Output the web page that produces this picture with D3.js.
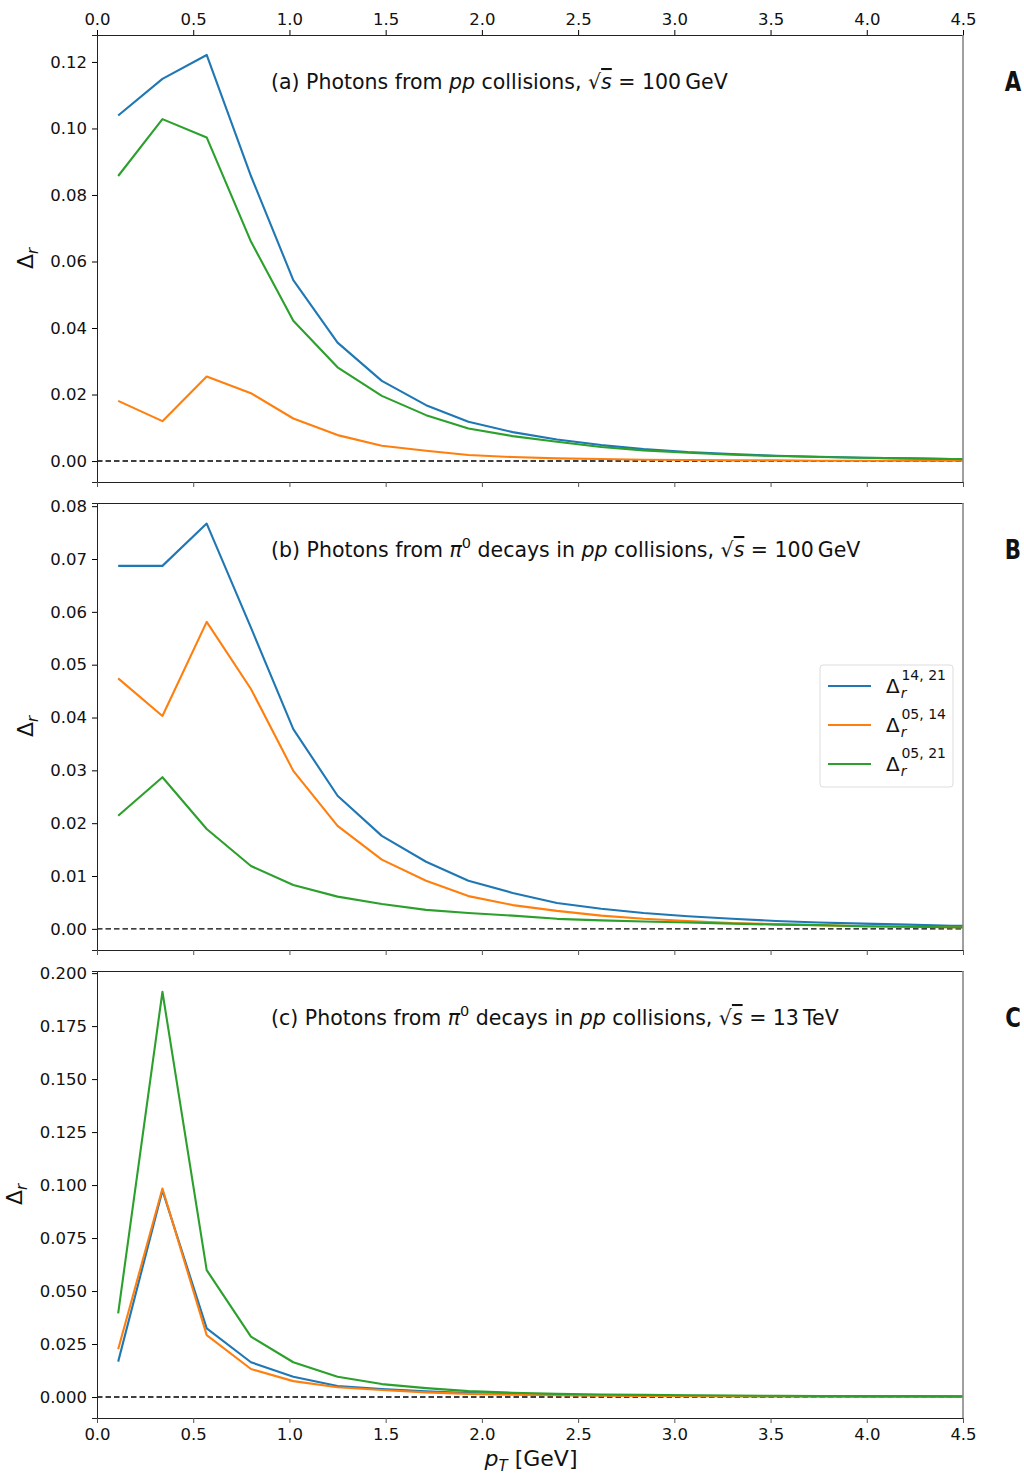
<!DOCTYPE html>
<html>
<head>
<meta charset="utf-8">
<script src="https://cdn.jsdelivr.net/npm/d3@7"></script>
<style>
  body { margin: 0; background: #fff; }
  svg { display: block; }
  text { font-family: "DejaVu Sans", sans-serif; fill: #111; }
</style>
</head>
<body>
<svg width="1024" height="1474"></svg>
<script>
const width = 1024;
const height = 1474;
const svg = d3.select("svg");

// pT bin centres [GeV]
const pT = [0.11, 0.34, 0.57, 0.80, 1.02, 1.25, 1.48, 1.71, 1.93, 2.16, 2.39,
            2.62, 2.84, 3.07, 3.30, 3.53, 3.75, 3.98, 4.21, 4.44, 4.66];

// (a) photons from pp, 100 GeV
const aD1421 = [0.1039, 0.1149, 0.1221, 0.0857, 0.0544, 0.0356, 0.0241, 0.0168, 0.0118, 0.0087, 0.0065,
                0.0048, 0.0036, 0.0027, 0.0021, 0.0016, 0.0013, 0.0010, 0.0008, 0.0006, 0.0005];
const aD0514 = [0.0181, 0.0120, 0.0254, 0.0204, 0.0128, 0.0078, 0.0046, 0.0031, 0.0018, 0.0012, 0.0008,
                0.0006, 0.0004, 0.0003, 0.0002, 0.0002, 0.0001, 0.0001, 0.0001, 0.0001, 0.0001];
const aD0521 = [0.0857, 0.1028, 0.0973, 0.0660, 0.0422, 0.0282, 0.0196, 0.0138, 0.0098, 0.0075, 0.0058,
                0.0042, 0.0032, 0.0025, 0.0019, 0.0015, 0.0012, 0.0010, 0.0008, 0.0006, 0.0005];

// (b) photons from pi0 decays, pp 100 GeV
const bD1421 = [0.0687, 0.0687, 0.0767, 0.0570, 0.0378, 0.0252, 0.0176, 0.0127, 0.0091, 0.0068, 0.0049,
                0.0038, 0.0030, 0.0024, 0.0019, 0.0015, 0.0012, 0.0010, 0.0008, 0.0006, 0.0005];
const bD0514 = [0.0474, 0.0403, 0.0581, 0.0454, 0.0299, 0.0195, 0.0131, 0.0091, 0.0062, 0.0045, 0.0034,
                0.0025, 0.0019, 0.0015, 0.0011, 0.0009, 0.0007, 0.0005, 0.0004, 0.0003, 0.0003];
const bD0521 = [0.0214, 0.0287, 0.0189, 0.0119, 0.0083, 0.0061, 0.0047, 0.0036, 0.0030, 0.0025, 0.0019,
                0.0016, 0.0014, 0.0012, 0.0010, 0.0008, 0.0007, 0.0005, 0.0004, 0.0003, 0.0002];

// (c) photons from pi0 decays, pp 13 TeV
const cD1421 = [0.0167, 0.0975, 0.0324, 0.0164, 0.0096, 0.0052, 0.0038, 0.0027, 0.0019, 0.0014, 0.0010,
                0.0008, 0.0007, 0.0006, 0.0005, 0.0004, 0.0004, 0.0003, 0.0003, 0.0003, 0.0002];
const cD0514 = [0.0225, 0.0984, 0.0292, 0.0132, 0.0075, 0.0046, 0.0033, 0.0022, 0.0015, 0.0011, 0.0008,
                0.0006, 0.0005, 0.0004, 0.0003, 0.0003, 0.0002, 0.0002, 0.0002, 0.0001, 0.0001];
const cD0521 = [0.0395, 0.1912, 0.0599, 0.0285, 0.0164, 0.0096, 0.0061, 0.0042, 0.0028, 0.0020, 0.0015,
                0.0012, 0.0010, 0.0008, 0.0007, 0.0006, 0.0005, 0.0004, 0.0004, 0.0003, 0.0003];

const xTicks = [0, 0.5, 1.0, 1.5, 2.0, 2.5, 3.0, 3.5, 4.0, 4.5];
const colors = ["#1f77b4", "#ff7f0e", "#2ca02c"];
const legendSup = ["14, 21", "05, 14", "05, 21"];

const panels = [
  { top: 35, bottom: 482, ymin: -0.0063, ymax: 0.1281, ticks: d3.range(0, 0.1201, 0.02), fmt: ".2f",
    series: [aD1421, aD0514, aD0521], label: "(a)", pi: false, energy: "100\u2009GeV", letter: "A", ylx: 33 },
  { top: 503, bottom: 950, ymin: -0.0040, ymax: 0.0806, ticks: d3.range(0, 0.0801, 0.01), fmt: ".2f",
    series: [bD1421, bD0514, bD0521], label: "(b)", pi: true, energy: "100\u2009GeV", letter: "B", ylx: 33 },
  { top: 971, bottom: 1418, ymin: -0.0099, ymax: 0.2010, ticks: d3.range(0, 0.2001, 0.025), fmt: ".3f",
    series: [cD1421, cD0514, cD0521], label: "(c)", pi: true, energy: "13\u2009TeV", letter: "C", ylx: 22 }
];

const x = d3.scaleLinear().domain([0, 4.5]).range([97, 963]);
const defs = svg.append("defs");

panels.forEach((p, i) => {
  const y = d3.scaleLinear().domain([p.ymin, p.ymax]).range([p.bottom, p.top]);
  const g = svg.append("g");

  // zero line
  g.append("line")
    .attr("x1", x(0)).attr("x2", x(4.5))
    .attr("y1", y(0)).attr("y2", y(0))
    .attr("stroke", "#000").attr("stroke-width", 1.4)
    .attr("stroke-dasharray", "5.5,3");

  const line = d3.line().x((d, k) => x(pT[k])).y(d => y(d));
  const clipId = "clip" + i;
  defs.append("clipPath").attr("id", clipId)
    .append("rect").attr("x", 97).attr("y", p.top).attr("width", 866).attr("height", p.bottom - p.top);

  p.series.forEach((s, k) => {
    g.append("path")
      .datum(s)
      .attr("clip-path", `url(#${clipId})`)
      .attr("fill", "none")
      .attr("stroke", colors[k])
      .attr("stroke-width", 2.1)
      .attr("stroke-linejoin", "round")
      .attr("d", line);
  });

  // y axis
  const yAxis = g.append("g")
    .attr("transform", `translate(${x(0)},0)`)
    .call(d3.axisLeft(y).tickValues(p.ticks).tickFormat(d3.format(p.fmt)).tickSize(5).tickPadding(5));
  yAxis.select(".domain").attr("stroke", "#222");
  yAxis.selectAll("text").style("font-size", "16.5px").attr("fill", "#111");

  // bottom x ticks
  const xb = g.append("g")
    .attr("transform", `translate(0,${p.bottom})`)
    .call(d3.axisBottom(x).tickValues(xTicks).tickSize(5).tickPadding(5)
      .tickFormat(i === 2 ? d3.format(".1f") : ""));
  xb.select(".domain").attr("stroke", "#222");
  xb.selectAll("line").attr("stroke", "#555");
  xb.selectAll("text").style("font-size", "16.5px").attr("fill", "#111");

  // top axis (labels only on first panel)
  const xt = g.append("g")
    .attr("transform", `translate(0,${p.top})`)
    .call(d3.axisTop(x).tickValues(xTicks).tickSize(i === 0 ? 5 : 0).tickPadding(5)
      .tickFormat(i === 0 ? d3.format(".1f") : ""));
  xt.select(".domain").attr("stroke", "#222");
  xt.selectAll("text").style("font-size", "16.5px").attr("fill", "#111");

  // right spine
  g.append("line")
    .attr("x1", x(4.5)).attr("x2", x(4.5))
    .attr("y1", p.top).attr("y2", p.bottom)
    .attr("stroke", "#888").attr("stroke-width", 1.6);

  // y label
  const yl = g.append("text")
    .attr("transform", `translate(${p.ylx},${(p.top + p.bottom) / 2}) rotate(-90)`)
    .attr("text-anchor", "middle")
    .style("font-size", "22px");
  yl.append("tspan").text("\u0394");
  yl.append("tspan").attr("font-style", "italic").attr("dy", 5).style("font-size", "15px").text("r");

  // panel title
  const ty = p.top + 54;
  const t = g.append("text").attr("x", 271).attr("y", ty).style("font-size", "20.5px");
  t.append("tspan").text(p.label + " Photons from ");
  if (p.pi) {
    t.append("tspan").attr("font-style", "italic").text("\u03c0");
    t.append("tspan").attr("dy", -9).style("font-size", "14.5px").text("0");
    t.append("tspan").attr("dy", 9).text(" decays in ");
  }
  t.append("tspan").attr("font-style", "italic").text("pp");
  t.append("tspan").text(" collisions, \u221a");
  t.append("tspan").attr("font-style", "italic").attr("text-decoration", "overline").text("s");
  t.append("tspan").text(" = " + p.energy);

  // panel letter
  svg.append("text")
    .attr("transform", `translate(1013,${ty + 2}) scale(0.82,1)`)
    .attr("text-anchor", "middle")
    .style("font-size", "26px").style("font-weight", "bold")
    .text(p.letter);

  // legend in panel b
  if (i === 1) {
    const lg = g.append("g").attr("transform", "translate(820,665)");
    lg.append("rect")
      .attr("width", 133).attr("height", 122).attr("rx", 3)
      .attr("fill", "#fff").attr("stroke", "#ddd").attr("stroke-width", 1);
    legendSup.forEach((sup, k) => {
      const ly = 21 + k * 39;
      lg.append("line")
        .attr("x1", 8).attr("x2", 51).attr("y1", ly).attr("y2", ly)
        .attr("stroke", colors[k]).attr("stroke-width", 2.1);
      const lt = lg.append("text").attr("x", 66).attr("y", ly + 7).style("font-size", "20px");
      lt.append("tspan").text("\u0394");
      lt.append("tspan").attr("font-style", "italic").attr("dy", 5).attr("dx", 1).style("font-size", "14px").text("r");
      lt.append("tspan").attr("dy", -18).attr("dx", -5).style("font-size", "14px").text(sup);
    });
  }
});

// x label
const xl = svg.append("text")
  .attr("x", 531).attr("y", 1466)
  .attr("text-anchor", "middle")
  .style("font-size", "22px");
xl.append("tspan").attr("font-style", "italic").text("p");
xl.append("tspan").attr("font-style", "italic").attr("dy", 5).style("font-size", "15px").text("T");
xl.append("tspan").attr("dy", -5).text(" [GeV]");
</script>
</body>
</html>
